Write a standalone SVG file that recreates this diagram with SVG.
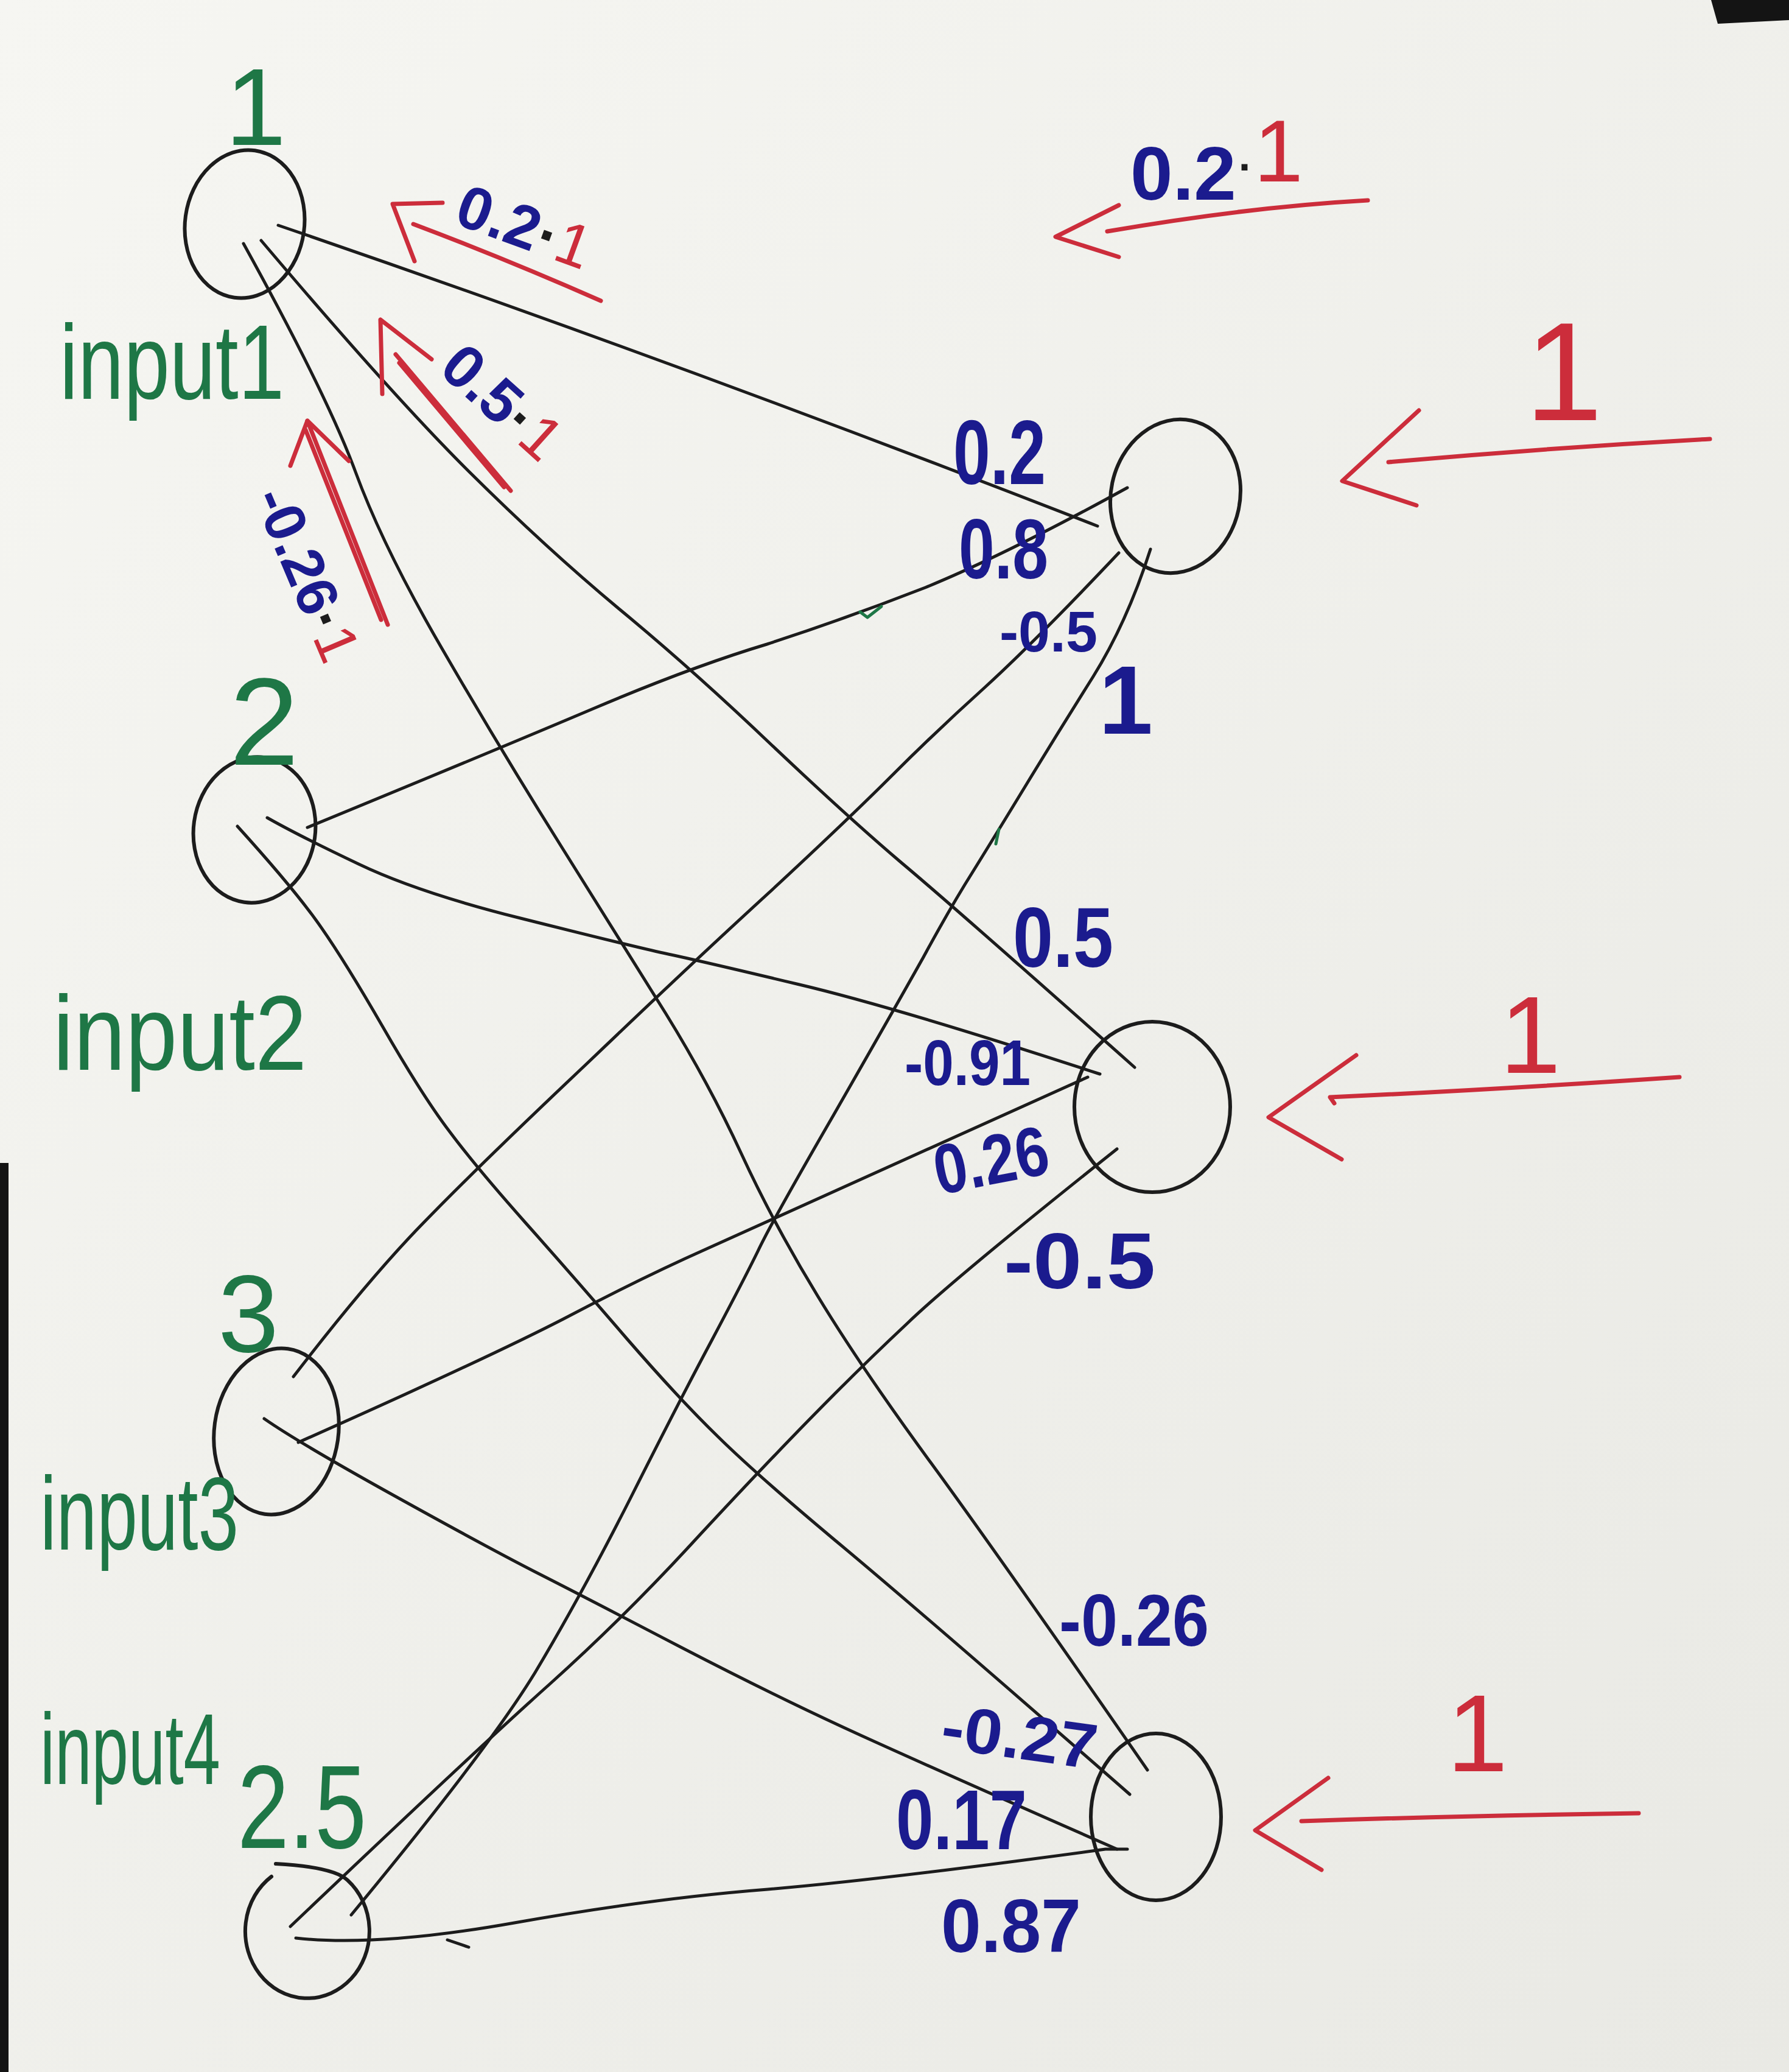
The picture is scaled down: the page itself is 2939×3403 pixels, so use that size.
<svg xmlns="http://www.w3.org/2000/svg" width="2939" height="3403" viewBox="0 0 2939 3403">
<defs>
<linearGradient id="paper" x1="0" y1="0" x2="1" y2="1">
<stop offset="0" stop-color="#f6f6f2"/>
<stop offset="1" stop-color="#e9e9e4"/>
</linearGradient>
<style>
.ink{fill:none;stroke:#1c1c1c;stroke-width:5;stroke-linecap:round;stroke-linejoin:round}
.node{fill:none;stroke:#1c1c1c;stroke-width:6;stroke-linecap:round}
.red{fill:none;stroke:#cc2d3b;stroke-width:7;stroke-linecap:round;stroke-linejoin:round}
.gtick{fill:none;stroke:#1e7746;stroke-width:5;stroke-linecap:round;stroke-linejoin:round}
.t{font-family:'Liberation Sans','DejaVu Sans',Arial,sans-serif}
.g{fill:#1e7746}
.b{fill:#1b1b8e;font-weight:bold}
.rt{fill:#cc2d3b;font-weight:normal}
.k{fill:#1c1c1c;font-weight:bold}
</style>
</defs>
<rect x="0" y="0" width="2939" height="3403" fill="url(#paper)"/>
<rect x="0" y="1910" width="14" height="1493" fill="#141414"/>
<polygon points="2811,0 2939,0 2939,33 2822,39" fill="#141414"/>

<g id="connectors">
<path class="ink" d="M457,370 Q1100,590 1803,864"/>
<path class="ink" d="M429,395 Q645,650 771,775 Q897,900 1017,1000 Q1137,1099 1266,1222 Q1395,1344 1481,1417 Q1567,1489 1864,1753"/>
<path class="ink" d="M400,400 Q538,650 584,775 Q630,900 726,1065 Q821,1229 922,1390 Q1022,1550 1094,1665 Q1165,1780 1218,1895 Q1271,2010 1343,2128 Q1414,2245 1529,2402 Q1644,2559 1885,2907"/>
<path class="ink" d="M505,1359 Q821,1229 979,1162 Q1137,1095 1260,1058 Q1389,1016 1520,965 Q1650,912 1852,801"/>
<path class="ink" d="M439,1343 Q490,1372 589,1419 Q687,1466 855,1508 Q1022,1550 1084,1564 Q1146,1577 1309,1616 Q1471,1654 1807,1764"/>
<path class="ink" d="M390,1357 Q477,1453 519,1511 Q561,1569 628,1685 Q694,1800 739,1859 Q783,1918 864,2009 Q945,2100 1031,2200 Q1117,2299 1180,2360 Q1242,2421 1371,2529 Q1500,2636 1856,2947"/>
<path class="ink" d="M482,2261 Q606,2100 695,2009 Q783,1918 965,1746 Q1146,1573 1271,1459 Q1395,1344 1467,1272 Q1539,1200 1620,1127 Q1701,1053 1838,908"/>
<path class="ink" d="M490,2369 Q800,2231 926,2166 Q1051,2100 1161,2051 Q1271,2002 1787,1769"/>
<path class="ink" d="M434,2330 Q490,2369 645,2455 Q800,2541 878,2581 Q955,2620 1118,2705 Q1280,2789 1414,2850 Q1548,2911 1835,3037"/>
<path class="ink" d="M1890,902 Q1852,1021 1796,1111 Q1740,1200 1687,1287 Q1634,1374 1598,1432 Q1562,1489 1517,1572 Q1471,1654 1369,1832 Q1266,2010 1245,2055 Q1223,2100 1170,2200 Q1117,2299 1036,2460 Q955,2620 879,2747 Q802,2873 577,3145"/>
<path class="ink" d="M477,3164 Q783,2873 903,2766 Q1022,2659 1132,2540 Q1242,2421 1328,2333 Q1414,2245 1491,2173 Q1567,2100 1835,1887"/>
<path class="ink" d="M486,3183 Q620,3198 845,3158 Q1070,3118 1261,3103 Q1452,3087 1816,3037 L1852,3037"/>
<path class="ink" d="M735,3186 L770,3198"/>
<path class="gtick" d="M1413,1005 L1425,1014 L1448,996"/>
<path class="gtick" d="M1641,1362 L1636,1386"/>
</g>

<g id="n-in1">
<ellipse class="node" cx="402" cy="368" rx="98" ry="122" transform="rotate(8 402 368)"/>
<text class="t g" x="420" y="238" font-size="180" text-anchor="middle">1</text>
<text class="t g" x="98" y="655" font-size="175" textLength="369" lengthAdjust="spacingAndGlyphs">input1</text>
</g>
<g id="n-in2">
<ellipse class="node" cx="418" cy="1363" rx="100" ry="120" transform="rotate(8 418 1363)"/>
<text class="t g" x="434" y="1256" font-size="205" text-anchor="middle">2</text>
<text class="t g" x="87" y="1757" font-size="175" textLength="417" lengthAdjust="spacingAndGlyphs">input2</text>
</g>
<g id="n-in3">
<ellipse class="node" cx="454" cy="2351" rx="102" ry="137" transform="rotate(8 454 2351)"/>
<text class="t g" x="408" y="2220" font-size="180" text-anchor="middle">3</text>
<text class="t g" x="66" y="2545" font-size="170" textLength="326" lengthAdjust="spacingAndGlyphs">input3</text>
</g>
<g id="n-in4">
<path class="node" d="M446,3082 A102,110 0 1 0 571,3088 Q548,3066 453,3061"/>
<text class="t g" x="66" y="2930" font-size="165" textLength="296" lengthAdjust="spacingAndGlyphs">input4</text>
<text class="t g" x="390" y="3035" font-size="195" textLength="212" lengthAdjust="spacingAndGlyphs">2.5</text>
</g>
<g id="n-out1">
<ellipse class="node" cx="1931" cy="815" rx="106" ry="127" transform="rotate(12 1931 815)"/>
</g>
<g id="n-out2">
<ellipse class="node" cx="1893" cy="1818" rx="128" ry="140"/>
</g>
<g id="n-out3">
<ellipse class="node" cx="1899" cy="2984" rx="107" ry="137"/>
</g>

<g id="weights">
<text class="t b" x="1566" y="795" font-size="150" textLength="152" lengthAdjust="spacingAndGlyphs">0.2</text>
<text class="t b" x="1575" y="950" font-size="140" textLength="147" lengthAdjust="spacingAndGlyphs">0.8</text>
<text class="t b" x="1642" y="1070" font-size="95" textLength="161" lengthAdjust="spacingAndGlyphs">-0.5</text>
<text class="t b" x="1805" y="1205" font-size="160">1</text>
<text class="t b" x="1664" y="1588" font-size="140" textLength="165" lengthAdjust="spacingAndGlyphs">0.5</text>
<text class="t b" x="1486" y="1782" font-size="105" textLength="207" lengthAdjust="spacingAndGlyphs">-0.91</text>
<text class="t b" transform="translate(1628,1905) rotate(-11)" text-anchor="middle" dominant-baseline="central" font-size="115" textLength="190" lengthAdjust="spacingAndGlyphs">0.26</text>
<text class="t b" x="1649" y="2116" font-size="130" textLength="249" lengthAdjust="spacingAndGlyphs">-0.5</text>
<text class="t b" x="1740" y="2703" font-size="120" textLength="246" lengthAdjust="spacingAndGlyphs">-0.26</text>
<text class="t b" transform="translate(1675,2852) rotate(8)" text-anchor="middle" dominant-baseline="central" font-size="105" textLength="257" lengthAdjust="spacingAndGlyphs">-0.27</text>
<text class="t b" x="1472" y="3037" font-size="140" textLength="215" lengthAdjust="spacingAndGlyphs">0.17</text>
<text class="t b" x="1546" y="3206" font-size="125" textLength="230" lengthAdjust="spacingAndGlyphs">0.87</text>
</g>

<g id="backprop">
<path class="red" d="M987,494 Q830,425 679,368"/>
<path class="red" d="M727,333 L645,335 L681,429"/>
<text class="t" transform="translate(862,372) rotate(20)" text-anchor="middle" dominant-baseline="central" font-size="100"><tspan class="b">0.2</tspan><tspan class="k">·</tspan><tspan class="rt">1</tspan></text>

<path class="red" d="M839,806 L650,582 M828,800 L656,596"/>
<path class="red" d="M709,590 L625,525 L628,647"/>
<text class="t" transform="translate(826,660) rotate(42)" text-anchor="middle" dominant-baseline="central" font-size="100"><tspan class="b">0.5</tspan><tspan class="k">·</tspan><tspan class="rt">1</tspan></text>

<path class="red" d="M637,1026 L505,691 M626,1018 L502,706"/>
<path class="red" d="M477,765 L505,691 L573,757"/>
<text class="t" transform="translate(505,943) rotate(67)" text-anchor="middle" dominant-baseline="central" font-size="95"><tspan class="b">-0.26</tspan><tspan class="k">·</tspan><tspan class="rt">1</tspan></text>

<path class="red" d="M2247,329 Q2050,340 1819,380"/>
<path class="red" d="M1838,337 L1734,389 L1838,422"/>
<text class="t" x="1857" y="328"><tspan class="b" font-size="125">0.2</tspan><tspan class="k" font-size="70" dx="4" dy="-30">·</tspan><tspan class="rt" font-size="145" dx="2">1</tspan></text>

<path class="red" d="M2809,721 Q2550,735 2281,759"/>
<path class="red" d="M2331,674 L2205,790 L2327,830"/>
<text class="t rt" x="2505" y="690" font-size="230">1</text>

<path class="red" d="M2759,1769 Q2450,1790 2185,1802 L2192,1812"/>
<path class="red" d="M2228,1733 L2084,1835 L2204,1904"/>
<text class="t rt" x="2464" y="1762" font-size="180">1</text>

<path class="red" d="M2692,2978 Q2400,2982 2138,2991"/>
<path class="red" d="M2182,2920 L2062,3006 L2171,3071"/>
<text class="t rt" x="2377" y="2909" font-size="180">1</text>
</g>
</svg>
